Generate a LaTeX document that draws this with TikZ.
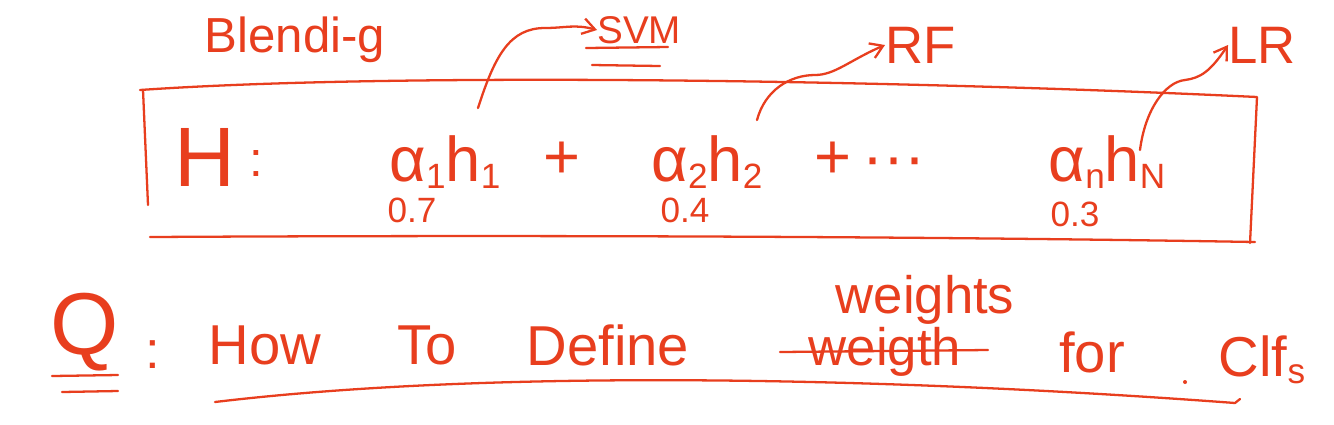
\documentclass[tikz,border=0pt]{standalone}
\usepackage{fontspec}
\setmainfont{Liberation Sans}
\usetikzlibrary{arrows.meta}
\definecolor{ink}{RGB}{232,62,30}
\newcommand{\fsz}[1]{\fontsize{#1}{#1}\selectfont}
\newcommand{\lowsub}[1]{\raisebox{-0.12em}{\fsz{20}#1}}
\begin{document}
\begin{tikzpicture}[x=0.02cm,y=-0.02cm,
  txt/.style={text=ink, inner sep=0pt},
  stroke/.style={draw=ink, line width=1.3pt, line cap=round, line join=round},
  curly/.style={stroke, -{Straight Barb[length=7pt,width=9pt]}}]
\useasboundingbox (0,0) rectangle (1334,424);
\fill[white] (0,0) rectangle (1334,424);

% title
\node[txt, font=\fsz{28}] (blend) at (295,40) {Blendi-g};

% box
\draw[stroke] (140,90) .. controls (400,72) and (900,80) .. (1257,97)
  -- (1250,243);
\draw[stroke] (143,90) -- (148,205);
\draw[stroke] (150,237) .. controls (500,235) and (900,236) .. (1255,242);

% formula
\node[txt, font=\fsz{48}] (H) at (205,157) {H};
\node[txt, font=\fsz{28}] (Hc) at (256,163) {:};
\node[txt, font=\fsz{36}] (t1) at (445,162) {α\lowsub{1}h\lowsub{1}};
\node[txt, font=\fsz{36}] (p1) at (562,160) {+};
\node[txt, font=\fsz{36}] (t2) at (707,162) {α\lowsub{2}h\lowsub{2}};
\node[txt, font=\fsz{36}] (p2) at (870,160) {+\,···};
\node[txt, font=\fsz{36}] (tn) at (1107,162) {α\lowsub{n}h\lowsub{N}};
\node[txt, font=\fsz{20}] (w1) at (412,210) {0.7};
\node[txt, font=\fsz{20}] (w2) at (685,210) {0.4};
\node[txt, font=\fsz{20}] (wn) at (1075,214) {0.3};

% classifier labels
\node[txt, font=\fsz{22}, anchor=west] (svm) at (597,30) {SVM};
\node[txt, font=\fsz{30}, anchor=west] (rf) at (885,45) {RF};
\node[txt, font=\fsz{30}, anchor=west] (lr) at (1228,45) {LR};
\draw[stroke] (586,48) -- (668,47);
\draw[stroke] (592,65) -- (660,66);

\coordinate (c1) at (478,108);
\coordinate (c2) at (757,120);
\coordinate (cn) at (1140,150);
\draw[curly] (c1) .. controls (495,55) and (510,28) .. (545,28)
  .. controls (565,28) and (575,24) .. (svm.west);
\draw[curly] (c2) .. controls (765,90) and (790,75) .. (815,75)
  .. controls (835,75) and (850,60) .. (rf.west);
\draw[curly] (cn) .. controls (1145,110) and (1165,82) .. (1185,80)
  .. controls (1200,78) and (1210,72) .. (lr.west);

% question
\node[txt, font=\fsz{50}] (Q) at (85,332) {Q};
\draw[stroke] (52,376) -- (118,375);
\draw[stroke] (62,392) -- (118,391);
\node[txt, font=\fsz{30}] (colon) at (153,355) {:};
\node[txt, font=\fsz{32}] (how) at (265,345) {How};
\node[txt, font=\fsz{32}] (to) at (427,345) {To};
\node[txt, font=\fsz{32}] (def) at (608,345) {Define};
\node[txt, font=\fsz{30}] (wrong) at (885,352) {weigth};
\draw[stroke] (780,352) -- (988,350);
\node[txt, font=\fsz{30}] (right) at (925,300) {weights};
\node[txt, font=\fsz{32}] (for) at (1092,352) {for};
\fill[ink] (1185,382) circle (2);
\node[txt, font=\fsz{32}] (clf) at (1262,360) {Clf\lowsub{s}};
\draw[stroke] (215,402) .. controls (500,368) and (900,378) .. (1235,403)
  -- (1240,399);
\end{tikzpicture}
\end{document}
